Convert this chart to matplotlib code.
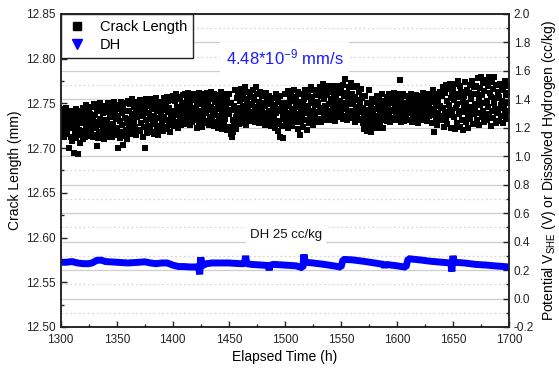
import numpy as np
import matplotlib
matplotlib.use('Agg')
import matplotlib.pyplot as plt
from matplotlib.lines import Line2D
from matplotlib.ticker import MultipleLocator, FormatStrFormatter

plt.rcParams['font.family'] = ['Liberation Sans', 'DejaVu Sans']
plt.rcParams['mathtext.fontset'] = 'custom'
plt.rcParams['mathtext.rm'] = 'Liberation Sans'
plt.rcParams['mathtext.it'] = 'Liberation Sans:italic'

# crack length (mm), one reading every 0.5 h from 1300 h
crack_length = [
    12.731, 12.742, 12.718, 12.736, 12.725, 12.744, 12.713, 12.729, 12.738, 12.721, 12.745, 12.716, 12.733, 12.727, 12.700, 12.740, 12.722, 12.735, 12.712, 12.730,
    12.741, 12.708, 12.724, 12.737, 12.695, 12.730, 12.717, 12.744, 12.711, 12.726, 12.739, 12.693, 12.720, 12.733, 12.706, 12.742, 12.715, 12.728, 12.736, 12.710,
    12.745, 12.719, 12.732, 12.713, 12.740, 12.726, 12.748, 12.716, 12.735, 12.722, 12.743, 12.714, 12.730, 12.738, 12.720, 12.746, 12.727, 12.712, 12.734, 12.724,
    12.749, 12.715, 12.737, 12.723, 12.702, 12.744, 12.729, 12.711, 12.741, 12.718, 12.733, 12.750, 12.714, 12.726, 12.746, 12.720, 12.739, 12.710, 12.731, 12.743,
    12.718, 12.747, 12.730, 12.713, 12.751, 12.724, 12.740, 12.716, 12.735, 12.749, 12.721, 12.744, 12.712, 12.737, 12.727, 12.752, 12.719, 12.742, 12.733, 12.715,
    12.748, 12.722, 12.736, 12.700, 12.744, 12.711, 12.730, 12.752, 12.718, 12.739, 12.726, 12.703, 12.745, 12.714, 12.734, 12.750, 12.720, 12.741, 12.710, 12.728,
    12.753, 12.727, 12.741, 12.716, 12.749, 12.733, 12.721, 12.755, 12.738, 12.718, 12.746, 12.729, 12.752, 12.724, 12.740, 12.715, 12.735, 12.750, 12.720, 12.744,
    12.738, 12.754, 12.719, 12.745, 12.728, 12.751, 12.713, 12.736, 12.748, 12.724, 12.700, 12.742, 12.731, 12.755, 12.717, 12.747, 12.725, 12.739, 12.752, 12.721,
    12.733, 12.755, 12.718, 12.744, 12.727, 12.750, 12.736, 12.716, 12.748, 12.730, 12.756, 12.722, 12.741, 12.715, 12.752, 12.734, 12.725, 12.746, 12.719, 12.739,
    12.751, 12.728, 12.743, 12.719, 12.756, 12.735, 12.724, 12.748, 12.731, 12.757, 12.721, 12.740, 12.753, 12.726, 12.745, 12.718, 12.737, 12.754, 12.730, 12.742,
    12.734, 12.758, 12.741, 12.725, 12.753, 12.737, 12.760, 12.729, 12.746, 12.722, 12.755, 12.739, 12.731, 12.757, 12.744, 12.726, 12.750, 12.735, 12.759, 12.742,
    12.748, 12.730, 12.761, 12.739, 12.727, 12.755, 12.744, 12.733, 12.762, 12.736, 12.751, 12.726, 12.745, 12.758, 12.740, 12.729, 12.754, 12.737, 12.760, 12.743,
    12.731, 12.757, 12.745, 12.723, 12.752, 12.738, 12.762, 12.728, 12.749, 12.735, 12.759, 12.742, 12.724, 12.754, 12.733, 12.747, 12.761, 12.730, 12.744, 12.756,
    12.739, 12.762, 12.728, 12.750, 12.743, 12.726, 12.757, 12.735, 12.763, 12.746, 12.731, 12.755, 12.740, 12.725, 12.760, 12.737, 12.752, 12.744, 12.729, 12.758,
    12.747, 12.723, 12.759, 12.736, 12.752, 12.729, 12.763, 12.741, 12.721, 12.755, 12.738, 12.748, 12.726, 12.761, 12.733, 12.745, 12.757, 12.720, 12.742, 12.750,
    12.738, 12.760, 12.724, 12.751, 12.716, 12.743, 12.712, 12.732, 12.718, 12.747, 12.728, 12.765, 12.735, 12.721, 12.756, 12.741, 12.730, 12.762, 12.745, 12.727,
    12.753, 12.736, 12.766, 12.742, 12.728, 12.759, 12.747, 12.733, 12.768, 12.739, 12.755, 12.726, 12.750, 12.763, 12.737, 12.745, 12.730, 12.761, 12.748, 12.740,
    12.757, 12.731, 12.749, 12.765, 12.738, 12.754, 12.729, 12.746, 12.768, 12.741, 12.735, 12.760, 12.744, 12.752, 12.728, 12.763, 12.739, 12.750, 12.733, 12.758,
    12.744, 12.760, 12.732, 12.751, 12.726, 12.747, 12.739, 12.762, 12.735, 12.755, 12.729, 12.742, 12.758, 12.737, 12.749, 12.725, 12.753, 12.740, 12.731, 12.746,
    12.756, 12.734, 12.748, 12.722, 12.761, 12.739, 12.727, 12.752, 12.719, 12.744, 12.730, 12.758, 12.713, 12.741, 12.725, 12.750, 12.736, 12.711, 12.746, 12.733,
    12.742, 12.760, 12.727, 12.751, 12.736, 12.764, 12.723, 12.747, 12.739, 12.756, 12.730, 12.762, 12.744, 12.725, 12.753, 12.735, 12.765, 12.741, 12.729, 12.749,
    12.757, 12.733, 12.746, 12.721, 12.763, 12.738, 12.752, 12.715, 12.744, 12.729, 12.760, 12.736, 12.749, 12.724, 12.755, 12.741, 12.765, 12.731, 12.747, 12.720,
    12.739, 12.762, 12.745, 12.728, 12.757, 12.736, 12.768, 12.750, 12.731, 12.754, 12.742, 12.726, 12.765, 12.748, 12.734, 12.759, 12.740, 12.752, 12.729, 12.763,
    12.751, 12.733, 12.768, 12.745, 12.758, 12.729, 12.762, 12.740, 12.772, 12.736, 12.755, 12.747, 12.731, 12.766, 12.743, 12.759, 12.738, 12.770, 12.749, 12.734,
    12.763, 12.741, 12.755, 12.732, 12.769, 12.746, 12.737, 12.760, 12.751, 12.730, 12.766, 12.743, 12.757, 12.735, 12.770, 12.748, 12.739, 12.762, 12.744, 12.753,
    12.738, 12.765, 12.750, 12.733, 12.771, 12.744, 12.758, 12.736, 12.777, 12.747, 12.731, 12.762, 12.753, 12.740, 12.768, 12.742, 12.756, 12.734, 12.773, 12.749,
    12.760, 12.735, 12.752, 12.768, 12.741, 12.729, 12.757, 12.746, 12.770, 12.738, 12.754, 12.731, 12.763, 12.744, 12.750, 12.733, 12.766, 12.740, 12.756, 12.728,
    12.745, 12.721, 12.739, 12.758, 12.724, 12.733, 12.719, 12.750, 12.727, 12.743, 12.765, 12.722, 12.736, 12.718, 12.748, 12.730, 12.755, 12.725, 12.741, 12.734,
    12.752, 12.729, 12.744, 12.736, 12.758, 12.723, 12.747, 12.733, 12.755, 12.740, 12.726, 12.750, 12.738, 12.760, 12.731, 12.745, 12.722, 12.753, 12.735, 12.742,
    12.748, 12.736, 12.757, 12.730, 12.745, 12.761, 12.739, 12.752, 12.729, 12.743, 12.758, 12.734, 12.750, 12.741, 12.762, 12.732, 12.747, 12.755, 12.738, 12.744,
    12.753, 12.731, 12.746, 12.760, 12.737, 12.776, 12.749, 12.729, 12.756, 12.742, 12.735, 12.761, 12.744, 12.730, 12.751, 12.739, 12.758, 12.733, 12.747, 12.740,
    12.745, 12.757, 12.732, 12.750, 12.739, 12.760, 12.729, 12.748, 12.736, 12.755, 12.742, 12.731, 12.752, 12.738, 12.759, 12.734, 12.746, 12.728, 12.754, 12.741,
    12.749, 12.735, 12.758, 12.742, 12.731, 12.755, 12.746, 12.762, 12.738, 12.751, 12.733, 12.757, 12.744, 12.730, 12.760, 12.740, 12.753, 12.736, 12.748, 12.756,
    12.741, 12.759, 12.728, 12.752, 12.737, 12.765, 12.744, 12.718, 12.756, 12.733, 12.749, 12.726, 12.761, 12.739, 12.754, 12.731, 12.747, 12.763, 12.736, 12.745,
    12.758, 12.731, 12.768, 12.745, 12.724, 12.762, 12.740, 12.771, 12.734, 12.753, 12.727, 12.766, 12.748, 12.737, 12.772, 12.743, 12.756, 12.722, 12.760, 12.739,
    12.766, 12.735, 12.754, 12.721, 12.772, 12.745, 12.760, 12.728, 12.749, 12.775, 12.738, 12.757, 12.724, 12.769, 12.742, 12.763, 12.731, 12.752, 12.720, 12.747,
    12.758, 12.740, 12.774, 12.729, 12.751, 12.765, 12.736, 12.722, 12.762, 12.746, 12.771, 12.733, 12.755, 12.743, 12.775, 12.727, 12.760, 12.738, 12.768, 12.749,
    12.744, 12.770, 12.732, 12.761, 12.778, 12.739, 12.755, 12.726, 12.767, 12.748, 12.780, 12.735, 12.759, 12.742, 12.773, 12.729, 12.764, 12.751, 12.737, 12.776,
    12.753, 12.731, 12.769, 12.746, 12.779, 12.738, 12.762, 12.725, 12.757, 12.774, 12.741, 12.766, 12.734, 12.750, 12.780, 12.744, 12.728, 12.771, 12.756, 12.739,
    12.763, 12.742, 12.757, 12.730, 12.772, 12.748, 12.736, 12.768, 12.753, 12.728, 12.765, 12.745, 12.775, 12.739, 12.759, 12.733, 12.770, 12.750, 12.741, 12.762,
]
crack_time = 1300 + 0.5 * np.arange(len(crack_length))

# dissolved hydrogen trace (right axis units)
dh_time = [1300, 1305, 1310, 1315, 1320, 1325, 1328, 1332, 1336, 1340, 1350, 1360, 1370, 1375,
           1380, 1385, 1390, 1395, 1400, 1405, 1410, 1415, 1420, 1423, 1424, 1425, 1426, 1430,
           1435, 1440, 1450, 1460, 1464, 1465, 1466, 1470, 1480, 1485, 1486, 1487, 1490, 1500,
           1510, 1516, 1517, 1518, 1525, 1535, 1545, 1550, 1552, 1560, 1570, 1580, 1588, 1589,
           1590, 1600, 1608, 1610, 1620, 1630, 1640, 1648, 1649, 1650, 1651, 1660, 1670, 1680,
           1690, 1700]
dh_value = [0.255, 0.255, 0.260, 0.250, 0.245, 0.245, 0.250, 0.268, 0.270, 0.260, 0.255, 0.250, 0.255, 0.258,
            0.250, 0.245, 0.250, 0.250, 0.235, 0.225, 0.225, 0.222, 0.222, 0.225, 0.170, 0.290, 0.230, 0.245,
            0.250, 0.250, 0.250, 0.245, 0.245, 0.300, 0.245, 0.240, 0.235, 0.232, 0.200, 0.235, 0.240, 0.235,
            0.230, 0.215, 0.310, 0.255, 0.250, 0.240, 0.228, 0.220, 0.275, 0.272, 0.262, 0.250, 0.240, 0.220,
            0.240, 0.230, 0.220, 0.280, 0.272, 0.262, 0.255, 0.250, 0.190, 0.300, 0.255, 0.250, 0.240, 0.235,
            0.228, 0.222]

fig = plt.figure(figsize=(5.59, 3.72), dpi=100)
ax1 = fig.add_axes([0.1086, 0.121, 0.8020, 0.8414])
ax2 = ax1.twinx()
ax1.set_zorder(ax2.get_zorder() + 1)
ax1.patch.set_visible(False)

# grid belongs to the right axis, so it sits behind everything
ax2.set_axisbelow(True)
ax2.grid(which='major', color='#cfcfcf', lw=0.9, ls='-')
ax2.grid(which='minor', color='#d8d8d8', lw=0.9, ls=(0, (1.5, 2)))

ax2.plot(dh_time, dh_value, color='#0000ff', lw=5, solid_capstyle='butt',
         solid_joinstyle='bevel', zorder=3)
ax1.plot(crack_time, crack_length, 's', color='black', ms=3.8, mew=0)

ax1.set_xlim(1300, 1700)
ax1.set_ylim(12.50, 12.85)
ax2.set_ylim(-0.2, 2.0)

ax1.xaxis.set_major_locator(MultipleLocator(50))
ax1.xaxis.set_minor_locator(MultipleLocator(25))
ax2.xaxis.set_major_locator(MultipleLocator(50))
ax2.xaxis.set_minor_locator(MultipleLocator(25))
ax1.yaxis.set_major_locator(MultipleLocator(0.05))
ax1.yaxis.set_minor_locator(MultipleLocator(0.025))
ax1.yaxis.set_major_formatter(FormatStrFormatter('%.2f'))
ax2.yaxis.set_major_locator(MultipleLocator(0.2))
ax2.yaxis.set_minor_locator(MultipleLocator(0.1))
ax2.yaxis.set_major_formatter(FormatStrFormatter('%.1f'))

for ax in (ax1, ax2):
    ax.tick_params(which='both', direction='in', labelsize=8.5, colors='#222222', top=False)
    ax.tick_params(which='major', length=4, width=1)
    ax.tick_params(which='minor', length=2.5, width=1)
    for s in ax.spines.values():
        s.set_linewidth(1.1)
        s.set_color('#222222')
ax1.tick_params(axis='y', right=False)
ax2.tick_params(axis='y', left=False)
ax1.tick_params(axis='x', pad=5)

ax1.set_xlabel('Elapsed Time (h)', fontsize=10, labelpad=3)
ax1.set_ylabel('Crack Length (mm)', fontsize=10, labelpad=3)
ax2.set_ylabel('Potential V$_{\\mathrm{SHE}}$ (V) or Dissolved Hydrogen (cc/kg)', fontsize=10, labelpad=4)

ax1.text(1500, 12.801, '4.48*10$^{\\mathrm{-9}}$ mm/s', color='#1a1aff', fontsize=12,
         ha='center', va='center', zorder=5,
         bbox=dict(facecolor='white', edgecolor='none', pad=4))
ax1.text(1501, 12.603, 'DH 25 cc/kg', color='#111111', fontsize=9.5,
         ha='center', va='center', zorder=5,
         bbox=dict(facecolor='white', edgecolor='none', pad=3))

handles = [Line2D([], [], ls='none', marker='s', color='black', ms=6),
           Line2D([], [], ls='none', marker='v', color='#0000ff', ms=7)]
leg = ax1.legend(handles, ['Crack Length', 'DH'], loc='upper left', fontsize=10.5,
                 frameon=True, fancybox=False, edgecolor='#222222', framealpha=1,
                 borderaxespad=0, handlelength=1.4, handletextpad=0.9,
                 borderpad=0.4, labelspacing=0.3)
leg.get_frame().set_linewidth(1.0)

fig.savefig('out.png', dpi=100)
